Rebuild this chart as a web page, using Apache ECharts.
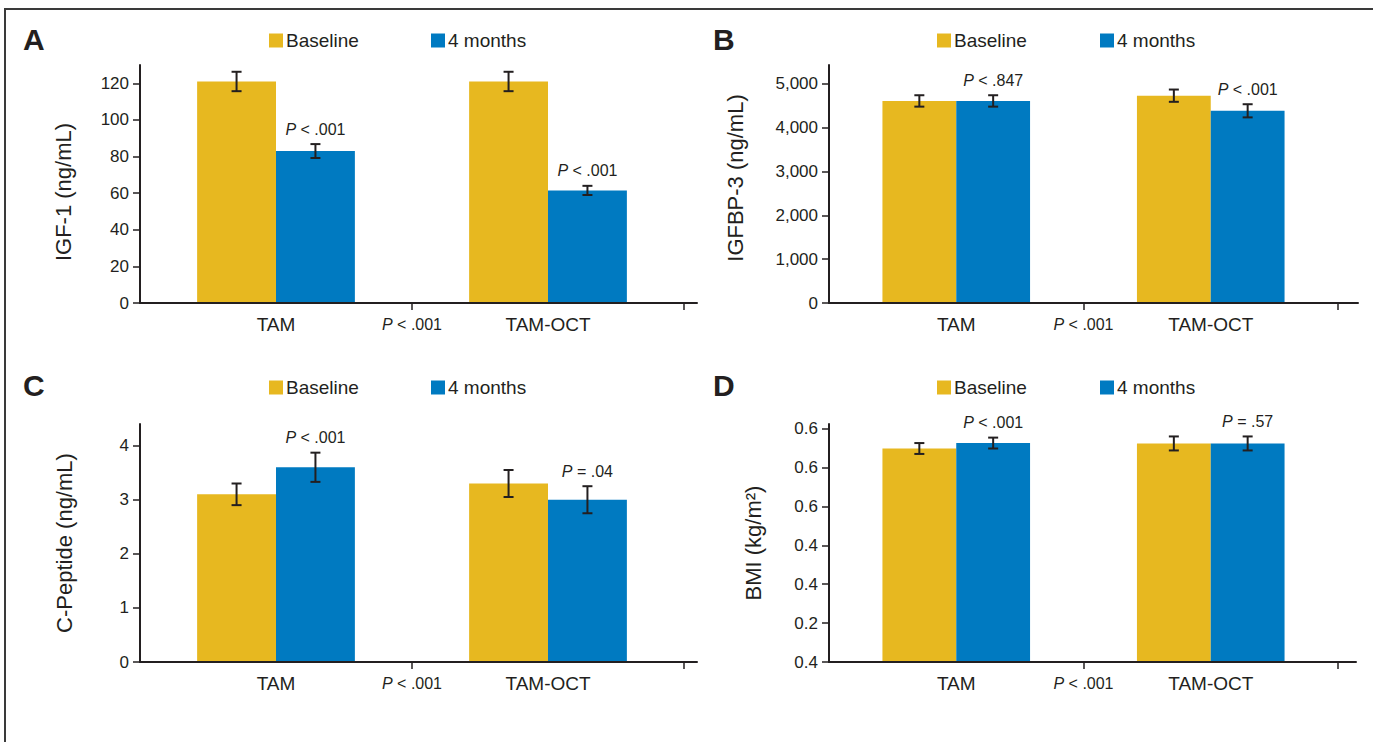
<!DOCTYPE html>
<html>
<head>
<meta charset="utf-8">
<script src="https://cdn.jsdelivr.net/npm/echarts@6/dist/echarts.min.js"></script>
<style>
  html, body { margin: 0; padding: 0; background: #fff; }
  #chart { width: 1373px; height: 742px; position: relative; }
  #frame { position: absolute; left: 4px; top: 8px; right: 0; bottom: 0;
           border-top: 2px solid #3a3a3a; border-left: 2px solid #3a3a3a; pointer-events: none; }
</style>
</head>
<body>
<div id="chart"></div>
<div id="frame"></div>
<script>
// ---------- DATA ----------
const categories = ['TAM', 'TAM-OCT'];
const legendNames = ['Baseline', '4 months'];
const panelLetters = ['A', 'B', 'C', 'D'];
const yTitles = ['IGF-1 (ng/mL)', 'IGFBP-3 (ng/mL)', 'C-Peptide (ng/mL)', 'BMI (kg/m\u00B2)'];
const betweenP = '< .001';

// Panel A: IGF-1
const igfBaseline = [121, 121];
const igfBaselineErr = [5.3, 5.3];
const igfMonth4 = [83, 61.5];
const igfMonth4Err = [3.8, 2.5];
const igfP = ['< .001', '< .001'];
const igfTicks = [0, 20, 40, 60, 80, 100, 120];
const igfTickLabels = ['0', '20', '40', '60', '80', '100', '120'];
const igfMax = 130;

// Panel B: IGFBP-3
const igfbpBaseline = [4610, 4730];
const igfbpBaselineErr = [130, 140];
const igfbpMonth4 = [4610, 4385];
const igfbpMonth4Err = [130, 150];
const igfbpP = ['< .847', '< .001'];
const igfbpTicks = [0, 1000, 2000, 3000, 4000, 5000];
const igfbpTickLabels = ['0', '1,000', '2,000', '3,000', '4,000', '5,000'];
const igfbpMax = 5430;

// Panel C: C-Peptide
const cpepBaseline = [3.1, 3.3];
const cpepBaselineErr = [0.2, 0.25];
const cpepMonth4 = [3.6, 3.0];
const cpepMonth4Err = [0.27, 0.25];
const cpepP = ['< .001', '= .04'];
const cpepTicks = [0, 1, 2, 3, 4];
const cpepTickLabels = ['0', '1', '2', '3', '4'];
const cpepMax = 4.4;

// Panel D: BMI
const bmiBaseline = [27.45, 28.1];
const bmiBaselineErr = [0.7, 0.9];
const bmiMonth4 = [28.15, 28.1];
const bmiMonth4Err = [0.7, 0.9];
const bmiP = ['< .001', '= .57'];
const bmiTicks = [0, 5, 10, 15, 20, 25, 30];
const bmiTickLabels = ['0.4', '0.2', '0.4', '0.4', '0.6', '0.6', '0.6'];
const bmiMax = 30.6;

// ---------- STYLE / LAYOUT ----------
const FF = "'Liberation Sans', Arial, Helvetica, sans-serif";
const INK = '#231f20';
const YELLOW = '#E7B820';
const BLUE = '#007AC1';
const CAT_GAP = 0.42;

const panels = [
  { base: igfBaseline, baseErr: igfBaselineErr, m4: igfMonth4, m4Err: igfMonth4Err, p: igfP,
    ticks: igfTicks, tickLabels: igfTickLabels, max: igfMax,
    grid: { left: 140, top: 65, width: 544, height: 238 }, extWidth: 557, nameGap: 66, namePad: [0, 16, 0, 0],
    legendLeft: [269, 431], legendTop: 31, titlePos: [23, 24] },
  { base: igfbpBaseline, baseErr: igfbpBaselineErr, m4: igfbpMonth4, m4Err: igfbpMonth4Err, p: igfbpP,
    ticks: igfbpTicks, tickLabels: igfbpTickLabels, max: igfbpMax,
    grid: { left: 829, top: 65, width: 509, height: 238 }, extWidth: 529, nameGap: 83, namePad: [0, 0, 0, 12],
    legendLeft: [937, 1100], legendTop: 31, titlePos: [713, 24] },
  { base: cpepBaseline, baseErr: cpepBaselineErr, m4: cpepMonth4, m4Err: cpepMonth4Err, p: cpepP,
    ticks: cpepTicks, tickLabels: cpepTickLabels, max: cpepMax,
    grid: { left: 140, top: 424, width: 544, height: 238 }, extWidth: 557, nameGap: 65, namePad: [0, 0, 0, 0],
    legendLeft: [269, 431], legendTop: 378, titlePos: [23, 370] },
  { base: bmiBaseline, baseErr: bmiBaselineErr, m4: bmiMonth4, m4Err: bmiMonth4Err, p: bmiP,
    ticks: bmiTicks, tickLabels: bmiTickLabels, max: bmiMax,
    grid: { left: 829, top: 424, width: 509, height: 238 }, extWidth: 527, nameGap: 65, namePad: [0, 0, 0, 0],
    legendLeft: [937, 1100], legendTop: 378, titlePos: [713, 370] }
];

function richP(text) {
  return {
    text: '{i|P}{n| ' + text + '}',
    rich: {
      i: { fontStyle: 'italic', fontSize: 16, fontFamily: FF, fill: INK },
      n: { fontSize: 16, fontFamily: FF, fill: INK }
    }
  };
}

function errorSeries(gi, values, errs, sign, pTexts) {
  return {
    type: 'custom', xAxisIndex: gi, yAxisIndex: gi, clip: false, z: 4, silent: true,
    data: values.map((v, i) => [i, v, errs[i]]),
    renderItem: function (params, api) {
      const i = api.value(0), v = api.value(1), e = api.value(2);
      const band = api.size([1, 0])[0];
      const bw = band * (1 - CAT_GAP) / 2;
      const x = api.coord([i, v])[0] + sign * bw / 2;
      const yt = api.coord([i, v + e])[1];
      const yb = api.coord([i, v - e])[1];
      const st = { stroke: INK, lineWidth: 2 };
      const children = [
        { type: 'line', shape: { x1: x, y1: yt, x2: x, y2: yb }, style: st },
        { type: 'line', shape: { x1: x - 5, y1: yt, x2: x + 5, y2: yt }, style: st },
        { type: 'line', shape: { x1: x - 5, y1: yb, x2: x + 5, y2: yb }, style: st }
      ];
      if (pTexts) {
        const rp = richP(pTexts[i]);
        children.push({ type: 'text', style: Object.assign({ x: x, y: yt - 7, align: 'center', verticalAlign: 'bottom',
          fontSize: 16, fontFamily: FF, fill: INK }, rp) });
      }
      return { type: 'group', children: children };
    }
  };
}

function betweenSeries(gi) {
  return {
    type: 'custom', xAxisIndex: gi, yAxisIndex: gi, clip: false, z: 4, silent: true,
    data: [[0, 0]],
    renderItem: function (params, api) {
      const band = api.size([1, 0])[0];
      const p = api.coord([0, 0]);
      const rp = richP(betweenP);
      return { type: 'text', style: Object.assign({ x: p[0] + band / 2, y: p[1] + 13, align: 'center', verticalAlign: 'top',
        fontSize: 16, fontFamily: FF, fill: INK }, rp) };
    }
  };
}

const option = {
  animation: false,
  textStyle: { fontFamily: FF, color: INK },
  title: [], legend: [], grid: [], xAxis: [], yAxis: [], series: []
};

panels.forEach((pn, gi) => {
  option.title.push({ text: panelLetters[gi], left: pn.titlePos[0], top: pn.titlePos[1], padding: 0,
    textStyle: { fontSize: 30, fontWeight: 'bold', color: INK, fontFamily: FF } });
  legendNames.forEach((nm, k) => {
    option.legend.push({ data: [nm], left: pn.legendLeft[k], top: pn.legendTop, padding: 0,
      itemWidth: 14, itemHeight: 14, icon: 'rect', selectedMode: false,
      textStyle: { fontSize: 19, color: INK, fontFamily: FF, padding: [0, 0, 0, -2] } });
  });
  option.grid.push(Object.assign({ containLabel: false }, pn.grid));
  option.xAxis.push({
    type: 'category', gridIndex: gi, data: categories,
    axisLine: { show: false }, axisTick: { show: false },
    axisLabel: { fontSize: 19, color: INK, margin: 12 }
  });
  option.yAxis.push({
    type: 'value', gridIndex: gi, min: 0, max: pn.max,
    name: yTitles[gi], nameLocation: 'middle', nameGap: pn.nameGap,
    nameTextStyle: { fontSize: 22, color: INK, fontFamily: FF, padding: pn.namePad },
    axisLine: { show: true, lineStyle: { color: INK, width: 2 } },
    axisTick: { show: true, length: 7, lineStyle: { color: INK, width: 1.5 }, customValues: pn.ticks },
    axisLabel: { fontSize: 17, color: INK, margin: 11, customValues: pn.ticks,
      formatter: (v) => { const idx = pn.ticks.indexOf(v); return idx >= 0 ? pn.tickLabels[idx] : ''; } },
    splitLine: { show: false }
  });
  option.series.push({ name: legendNames[0], type: 'bar', xAxisIndex: gi, yAxisIndex: gi, data: pn.base,
    itemStyle: { color: YELLOW }, barGap: '0%', barCategoryGap: (CAT_GAP * 100) + '%' });
  option.series.push({ name: legendNames[1], type: 'bar', xAxisIndex: gi, yAxisIndex: gi, data: pn.m4,
    itemStyle: { color: BLUE }, barGap: '0%', barCategoryGap: (CAT_GAP * 100) + '%' });
  option.series.push(errorSeries(gi, pn.base, pn.baseErr, -1, null));
  option.series.push(errorSeries(gi, pn.m4, pn.m4Err, 1, pn.p));
  option.series.push(betweenSeries(gi));
});

// extended baseline axes (x axis line runs a little past the last category)
panels.forEach((pn, gi) => {
  const egi = panels.length + gi;
  option.grid.push({ left: pn.grid.left, top: pn.grid.top, width: pn.extWidth, height: pn.grid.height });
  option.xAxis.push({
    type: 'value', gridIndex: egi, min: 0, max: 2 * pn.extWidth / pn.grid.width, z: 10,
    axisLine: { show: true, onZero: false, lineStyle: { color: INK, width: 2 } },
    axisTick: { show: true, length: 7, lineStyle: { color: INK, width: 1.5 }, customValues: [1, 2] },
    axisLabel: { show: false }, splitLine: { show: false }
  });
  option.yAxis.push({ type: 'value', gridIndex: egi, show: false });
});

const chart = echarts.init(document.getElementById('chart'), null, { renderer: 'svg' });
chart.setOption(option);
</script>
</body>
</html>
